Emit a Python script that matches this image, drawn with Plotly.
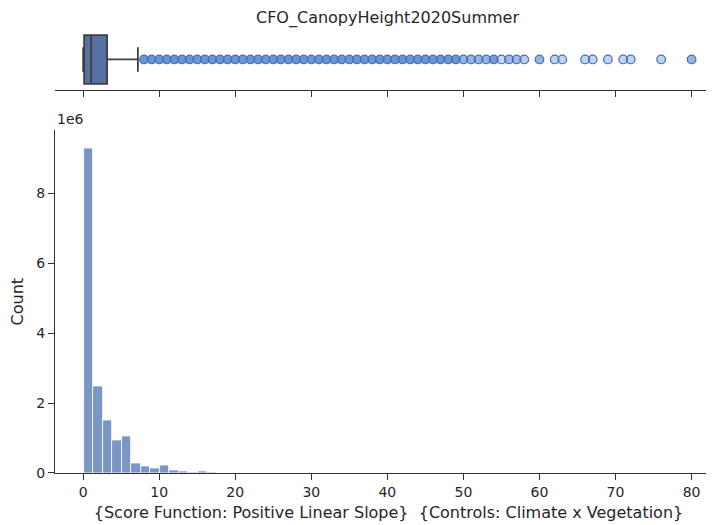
import plotly.graph_objects as go

# ---- data ----
title_text = "CFO_CanopyHeight2020Summer"
x_title = "{Score Function: Positive Linear Slope}  {Controls: Climate x Vegetation}"
y_title = "Count"

bin_start = 0.1
bin_width = 1.25
counts = [9290000, 2490000, 1510000, 920000, 1050000, 280000, 200000, 140000,
          230000, 80000, 50000, 15000, 45000, 4000, 2000, 1000]

box_q1 = [0.13]
box_median = [1.05]
box_q3 = [3.15]
box_lower = [0.0]
box_upper = [7.2]

outlier_values = list(range(8, 59)) + [60, 62, 63, 66, 67, 69, 71, 72, 76, 80]
outlier_alpha = ([0.85] * 42 + [0.6, 0.6, 0.6, 0.6, 0.8, 0.3, 0.55, 0.55, 0.4]
                 + [0.6, 0.35, 0.35, 0.35, 0.35, 0.35, 0.35, 0.35, 0.35, 0.6])

x_ticks = [0, 10, 20, 30, 40, 50, 60, 70, 80]
y_ticks = [0, 2e6, 4e6, 6e6, 8e6]
y_ticktext = ["0", "2", "4", "6", "8"]

# ---- figure ----
FONT = "DejaVu Sans"
TXT = "#262626"
AX = "#333333"

bin_centers = [bin_start + bin_width * (i + 0.5) for i in range(len(counts))]

fig = go.Figure()

fig.add_trace(go.Bar(
    x=bin_centers, y=counts, width=[bin_width] * len(counts),
    marker=dict(color="rgb(121,150,197)", line=dict(color="white", width=0.8)),
    xaxis="x", yaxis="y", showlegend=False, hoverinfo="x+y"))

fig.add_trace(go.Box(
    orientation="h", y=[0], q1=box_q1, median=box_median, q3=box_q3,
    lowerfence=box_lower, upperfence=box_upper,
    fillcolor="rgb(86,114,164)", line=dict(color="#3f3f3f", width=1.8),
    whiskerwidth=0.5, width=0.8, boxpoints=False,
    xaxis="x2", yaxis="y2", showlegend=False))

fig.add_trace(go.Scatter(
    x=outlier_values, y=[0] * len(outlier_values), mode="markers",
    marker=dict(size=8.6,
                color=[f"rgba(80,132,200,{a})" for a in outlier_alpha],
                line=dict(color="rgb(68,110,185)", width=1.2)),
    xaxis="x2", yaxis="y2", showlegend=False))

xrange = [-3.7, 84.0]
common_x = dict(range=xrange, tickvals=x_ticks, ticks="outside", ticklen=6,
                tickwidth=1.3, tickcolor=AX, showline=True, linecolor=AX,
                linewidth=1.3, showgrid=False, zeroline=False, automargin=False)

fig.update_layout(
    width=714, height=517,
    margin=dict(l=47, r=0, t=20.5, b=52),
    paper_bgcolor="white", plot_bgcolor="white",
    font=dict(family=FONT, size=14, color=TXT),
    bargap=0,
    title=dict(text=title_text, x=0.5315, xanchor="center", y=0.9826, yanchor="middle",
               font=dict(family=FONT, size=16, color=TXT)),
    xaxis=dict(**common_x, domain=[0, 1], anchor="y",
               title=dict(text=x_title, font=dict(size=16, color=TXT), standoff=7),
               tickfont=dict(size=14, color=TXT)),
    yaxis=dict(domain=[0, 0.7717], range=[0, 9.8e6], tickvals=y_ticks,
               ticktext=y_ticktext, ticks="outside", ticklen=6, tickwidth=1.3,
               tickcolor=AX, showline=True, linecolor=AX, linewidth=1.3,
               showgrid=False, zeroline=False, tickfont=dict(size=14, color=TXT),
               automargin=False,
               title=dict(text=y_title, font=dict(size=16, color=TXT), standoff=8)),
    xaxis2=dict(**common_x, domain=[0, 1], anchor="y2", showticklabels=False,
                matches="x"),
    yaxis2=dict(domain=[0.8628, 1.0], range=[0.5, -0.5], showline=False,
                showticklabels=False, ticks="", showgrid=False, zeroline=False,
                automargin=False),
    annotations=[dict(text="1e6", xref="paper", yref="paper", x=0.0, y=0.7717,
                      xanchor="left", yanchor="bottom", showarrow=False,
                      yshift=1, font=dict(size=14, color=TXT))],
)

fig.write_html("out.html")
